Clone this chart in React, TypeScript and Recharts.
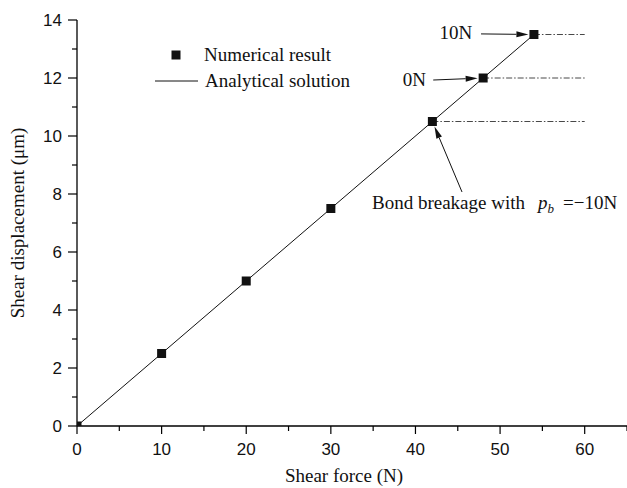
import React from 'react';
import {
  ComposedChart,
  Line,
  Scatter,
  XAxis,
  YAxis,
  ReferenceLine,
  ReferenceDot,
  Legend,
} from 'recharts';

// numerical result (shear force N, shear displacement um)
const forceValues = [0, 10, 20, 30, 42, 48, 54];
const dispValues = [0, 2.5, 5, 7.5, 10.5, 12, 13.5];

// analytical solution endpoints
const analyticForce = [0, 54];
const analyticDisp = [0, 13.5];

// bond breakage levels for p_b = -10N, 0N, 10N
const breakForce = [42, 48, 54];
const breakDisp = [10.5, 12, 13.5];
const breakLineEnd = 60;

const xTicks = [0, 5, 10, 15, 20, 25, 30, 35, 40, 45, 50, 55, 60, 65];
const xMajor = [0, 10, 20, 30, 40, 50, 60];
const yTicks = [0, 1, 2, 3, 4, 5, 6, 7, 8, 9, 10, 11, 12, 13, 14];
const yMajor = [0, 2, 4, 6, 8, 10, 12, 14];

// arrows: tail -> head, in data units
const arrowTailX = [47.75, 42.1, 45.5];
const arrowTailY = [13.52, 11.93, 8.07];
const arrowHeadX = [54, 48, 42];
const arrowHeadY = [13.5, 12, 10.5];

const numData = forceValues.map((x, i) => ({ x, y: dispValues[i] }));
const lineData = analyticForce.map((x, i) => ({ x, y: analyticDisp[i] }));

const serif = '"Liberation Serif", "Times New Roman", serif';
const sans = '"Liberation Sans", Arial, sans-serif';

const XTick = (props: any) => {
  const { x, y, payload } = props;
  const major = xMajor.includes(payload.value);
  return (
    <g>
      <line x1={x} x2={x} y1={y} y2={y + (major ? 8 : 5)} stroke="#000" strokeWidth={1.2} />
      {major && (
        <text x={x} y={y + 29} textAnchor="middle" fontFamily={sans} fontSize={17} fill="#111">
          {payload.value}
        </text>
      )}
    </g>
  );
};

const YTick = (props: any) => {
  const { x, y, payload } = props;
  const major = yMajor.includes(payload.value);
  return (
    <g>
      <line x1={x - (major ? 9 : 5)} x2={x} y1={y} y2={y} stroke="#000" strokeWidth={1.2} />
      {major && (
        <text x={x - 15} y={y + 6} textAnchor="end" fontFamily={sans} fontSize={17} fill="#111">
          {payload.value}
        </text>
      )}
    </g>
  );
};

const Square = (props: any) => {
  const { cx, cy, payload } = props;
  if (payload.x === 0) {
    return <rect x={cx} y={cy - 4.5} width={4.5} height={4.5} fill="#111" />;
  }
  return <rect x={cx - 4.5} y={cy - 4.5} width={9} height={9} fill="#111" />;
};

const Arrow = (props: any) => {
  const { x1, y1, x2, y2 } = props;
  const dx = x2 - x1;
  const dy = y2 - y1;
  const len = Math.sqrt(dx * dx + dy * dy);
  const ux = dx / len;
  const uy = dy / len;
  const tipX = x2 - ux * 5.5;
  const tipY = y2 - uy * 5.5;
  const bx = tipX - ux * 12;
  const by = tipY - uy * 12;
  const px = -uy * 3;
  const py = ux * 3;
  return (
    <g>
      <line x1={x1} y1={y1} x2={bx} y2={by} stroke="#111" strokeWidth={1} />
      <polygon
        points={`${tipX},${tipY} ${bx + px},${by + py} ${bx - px},${by - py}`}
        fill="#111"
      />
    </g>
  );
};

const renderLegend = () => (
  <div style={{ fontFamily: serif, fontSize: 19, color: '#111', lineHeight: '26px' }}>
    <div style={{ display: 'flex', alignItems: 'center', height: 26 }}>
      <svg width={50} height={26}>
        <rect x={21.5} y={8.5} width={9} height={9} fill="#111" />
      </svg>
      <span style={{ marginLeft: 4, whiteSpace: 'nowrap' }}>Numerical result</span>
    </div>
    <div style={{ display: 'flex', alignItems: 'center', height: 26 }}>
      <svg width={50} height={26}>
        <line x1={5} x2={48} y1={13} y2={13} stroke="#111" strokeWidth={1} />
      </svg>
      <span style={{ marginLeft: 5, whiteSpace: 'nowrap' }}>Analytical solution</span>
    </div>
  </div>
);

export default function App() {
  return (
    <div style={{ position: 'absolute', left: 0, top: 0, background: '#fff' }}>
      <ComposedChart
        width={627}
        height={488}
        margin={{ top: 20, right: 0, bottom: 0, left: 0 }}
      >
        <XAxis
          type="number"
          dataKey="x"
          domain={[0, 65]}
          ticks={xTicks}
          interval={0}
          tickSize={0}
          tickMargin={0}
          tickLine={false}
          tick={<XTick />}
          axisLine={{ stroke: '#000', strokeWidth: 1.3 }}
          height={62}
          label={{
            content: (p: any) => {
              const vb = p.viewBox;
              return (
                <text
                  x={vb.x + vb.width / 2 - 8}
                  y={482}
                  textAnchor="middle"
                  fontFamily={serif}
                  fontSize={19}
                  fill="#111"
                >
                  Shear force (N)
                </text>
              );
            },
          }}
        />
        <YAxis
          type="number"
          dataKey="y"
          domain={[0, 14]}
          ticks={yTicks}
          interval={0}
          tickSize={0}
          tickMargin={0}
          tickLine={false}
          tick={<YTick />}
          axisLine={{ stroke: '#000', strokeWidth: 1.3 }}
          width={77}
          label={{
            content: (p: any) => {
              const vb = p.viewBox;
              const cy = vb.y + vb.height / 2;
              return (
                <text
                  x={24}
                  y={cy}
                  transform={`rotate(-90, 24, ${cy})`}
                  textAnchor="middle"
                  fontFamily={serif}
                  fontSize={19}
                  fill="#111"
                >
                  Shear displacement (μm)
                </text>
              );
            },
          }}
        />
        <Legend
          layout="horizontal"
          verticalAlign="middle"
          align="center"
          content={renderLegend}
          wrapperStyle={{ position: 'absolute', left: 150, top: 42, width: 230, height: 52 }}
        />
        {breakForce.map((f, i) => (
          <ReferenceLine
            key={'b' + i}
            segment={[
              { x: f, y: breakDisp[i] },
              { x: breakLineEnd, y: breakDisp[i] },
            ]}
            stroke="#333"
            strokeWidth={0.9}
            strokeDasharray="6 2 1.5 2"
          />
        ))}
        <Line
          data={lineData}
          dataKey="y"
          stroke="#111"
          strokeWidth={1}
          dot={false}
          activeDot={false}
          legendType="none"
          isAnimationActive={false}
        />
        <Scatter
          data={numData}
          dataKey="y"
          fill="#111"
          shape={<Square />}
          legendType="none"
          isAnimationActive={false}
        />
        {arrowTailX.map((tx, i) => (
          <ReferenceLine
            key={'a' + i}
            segment={[
              { x: tx, y: arrowTailY[i] },
              { x: arrowHeadX[i], y: arrowHeadY[i] },
            ]}
            shape={<Arrow />}
          />
        ))}
        <ReferenceDot
          x={46.7}
          y={13.34}
          r={0}
          shape={(p: any) => (
            <text x={p.cx} y={p.cy} textAnchor="end" fontFamily={serif} fontSize={19} fill="#111">
              10N
            </text>
          )}
        />
        <ReferenceDot
          x={41.25}
          y={11.72}
          r={0}
          shape={(p: any) => (
            <text x={p.cx} y={p.cy} textAnchor="end" fontFamily={serif} fontSize={19} fill="#111">
              0N
            </text>
          )}
        />
        <ReferenceDot
          x={34.86}
          y={7.48}
          r={0}
          shape={(p: any) => (
            <text x={p.cx} y={p.cy} textAnchor="start" fontFamily={serif} fontSize={19} fill="#111">
              <tspan>Bond breakage with</tspan>
              <tspan dx={13} fontStyle="italic">p</tspan>
              <tspan fontStyle="italic" fontSize={13} dy={4}>b</tspan>
              <tspan dx={9} dy={-4}>=</tspan>
              <tspan>−10N</tspan>
            </text>
          )}
        />
      </ComposedChart>
    </div>
  );
}
